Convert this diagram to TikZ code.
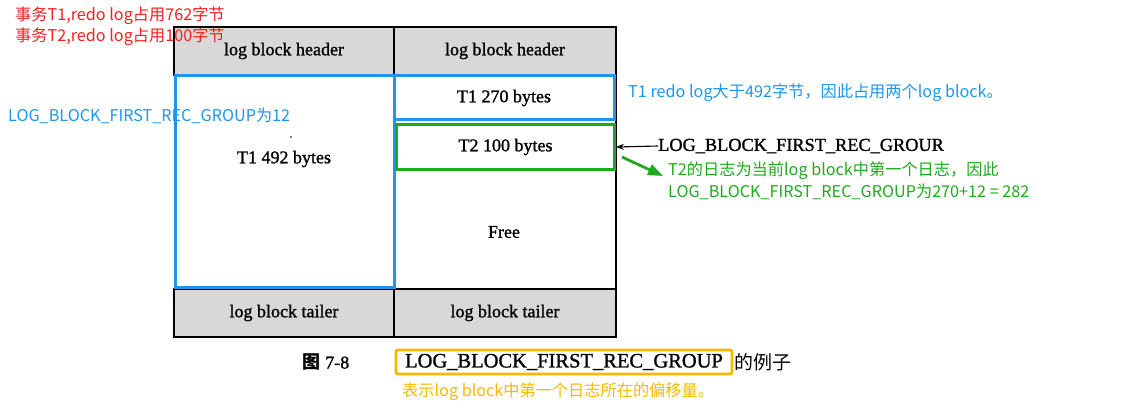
\documentclass[tikz,border=0pt]{standalone}
\usepackage{fontspec}
\setmainfont{Liberation Serif}
\newfontfamily\semib[FakeBold=1.2]{Liberation Serif}
\newfontfamily\cjk{Noto Sans CJK SC}
\usetikzlibrary{arrows.meta}
\definecolor{myred}{RGB}{250,30,30}
\definecolor{myblue}{RGB}{30,150,240}
\definecolor{mygreen}{RGB}{30,170,30}
\definecolor{myorange}{RGB}{250,185,0}
\definecolor{hatch}{RGB}{216,216,216}
\tikzset{
  cell/.style={draw=black,line width=1.4pt,fill=hatch,minimum width=220pt,minimum height=48pt,inner sep=0pt,font=\semib\fontsize{18}{18}\selectfont},
  serif/.style={font=\semib\fontsize{18}{18}\selectfont,inner sep=0pt},
  note/.style={font=\cjk\fontsize{16.2}{17}\selectfont,inner sep=0pt,anchor=west},
  bluebox/.style={draw=myblue,line width=3pt,inner sep=0pt},
  greenbox/.style={draw=mygreen,line width=3pt,inner sep=0pt},
}
\begin{document}
\begin{tikzpicture}[x=1pt,y=-1pt]
\useasboundingbox[fill=white] (0,0) rectangle (1134,409);
% table
\node[cell] (h1) at (284,51) {log block header};
\node[cell,minimum width=222pt] (h2) at (505,51) {log block header};
\node[cell] (t1) at (284,313) {log block tailer};
\node[cell,minimum width=222pt] (t2) at (505,313) {log block tailer};
\node[draw=black,line width=1.4pt,minimum width=222pt,minimum height=214pt,inner sep=0pt] (rb) at (505,182) {};
\node[bluebox,minimum width=219pt,minimum height=212pt] (lb) at (284.5,181.5) {};
\node[bluebox,minimum width=220pt,minimum height=44pt] (r1) at (504,98) {};
\node[greenbox,minimum width=218pt,minimum height=45pt] (g) at (505.5,147) {};
\node[serif] (t1a) at (284,159) {T1 492 bytes};
\node[circle,fill=black,inner sep=0pt,minimum size=1.8pt] (dot) at (291,137) {};
\node[serif] (t1b) at (r1.center) {T1 270 bytes};
\node[serif] (t2b) at (g.center) {T2 100 bytes};
\node[serif] (free) at (504,232) {Free};
% annotations
\node[note,text=myred] (n1) at (15,16) {事务T1,redo log占用762字节};
\node[note,text=myred] (n2) at (15,37) {事务T2,redo log占用100字节};
\node[note,text=myblue] (n3) at (8,116) {LOG\_BLOCK\_FIRST\_REC\_GROUP为12};
\node[note,text=myblue] (n4) at (628,93) {T1 redo log大于492字节，因此占用两个log block。};
\node[anchor=west,inner sep=0pt,font=\semib\fontsize{18.3}{18.5}\selectfont] (lbl) at (658,146) {LOG\_BLOCK\_FIRST\_REC\_GROUR};
\draw[-{Stealth[length=8pt,width=6pt]},line width=1.1pt] (lbl.west) -- (g.east);
\node[note,text=mygreen] (n5) at (668,171) {T2的日志为当前log block中第一个日志，因此};
\node[note,text=mygreen] (n6) at (668,192) {LOG\_BLOCK\_FIRST\_REC\_GROUP为270+12 = 282};
\coordinate (gs) at (622,157);
\coordinate (ge) at (663,176);
\draw[mygreen,line width=2.8pt,-{Triangle[length=15pt,width=11pt]}] (gs) -- (ge);
% caption
\node[inner sep=0pt,font=\semib\fontsize{18}{18}\selectfont] (fig) at (326,362) {{\cjk\bfseries 图} 7-8};
\node[draw=myorange,line width=2.8pt,rounded corners=2pt,inner sep=0pt,font=\semib\fontsize{20.5}{21}\selectfont,minimum width=336pt,minimum height=24pt] (cap) at (564,362) {LOG\_BLOCK\_FIRST\_REC\_GROUP};
\node[font=\cjk\fontsize{19}{19}\selectfont,inner sep=0pt,anchor=west] (cap2) at (734,362) {的例子};
\node[note,text=myorange] (n7) at (402,392) {表示log block中第一个日志所在的偏移量。};
\end{tikzpicture}
\end{document}
